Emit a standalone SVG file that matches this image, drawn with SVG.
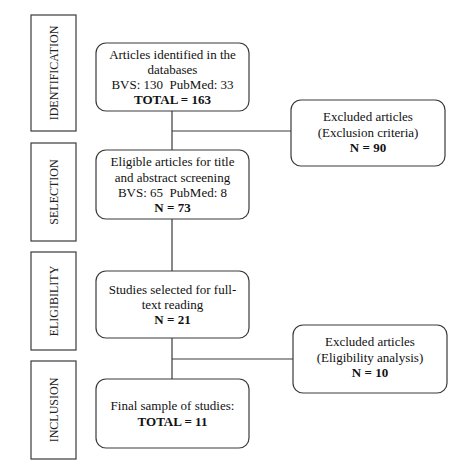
<svg xmlns="http://www.w3.org/2000/svg" width="461" height="461" viewBox="0 0 461 461">
<style>
.stage{fill:#fff;stroke:#3a3a3a;stroke-width:1.2}
.box{fill:#fff;stroke:#3a3a3a;stroke-width:1.2}
.t{font-family:'Liberation Serif','Times New Roman','DejaVu Serif',serif;font-size:13px;fill:#111;text-anchor:middle;white-space:pre}
.s{font-family:'Liberation Serif','Times New Roman','DejaVu Serif',serif;font-size:12px;fill:#222;text-anchor:middle}
.b{font-weight:bold}
.c{stroke:#3a3a3a;stroke-width:1.2;fill:none}
</style>
<rect width="461" height="461" fill="#fff"/>
<g id="connectors">
<line class="c" x1="172" y1="111" x2="172" y2="150"/>
<line class="c" x1="172" y1="131" x2="291" y2="131"/>
<line class="c" x1="172" y1="219" x2="172" y2="271"/>
<line class="c" x1="172" y1="338" x2="172" y2="379"/>
<line class="c" x1="172" y1="359" x2="293" y2="359"/>
</g>
<g id="stage-identification">
<rect class="stage" x="31" y="15" width="45" height="116"/>
<text class="s" transform="translate(57.5,73) rotate(-90)">IDENTIFICATION</text>
</g>
<g id="stage-selection">
<rect class="stage" x="31" y="143" width="45" height="98"/>
<text class="s" transform="translate(57.5,192) rotate(-90)">SELECTION</text>
</g>
<g id="stage-eligibility">
<rect class="stage" x="31" y="252" width="45" height="98"/>
<text class="s" transform="translate(57.5,301) rotate(-90)">ELIGIBILITY</text>
</g>
<g id="stage-inclusion">
<rect class="stage" x="31" y="361" width="45" height="98"/>
<text class="s" transform="translate(57.5,410) rotate(-90)">INCLUSION</text>
</g>
<g id="node-identified">
<rect class="box" x="96" y="43" width="153" height="68" rx="10"/>
<text class="t" x="172.5" y="59">Articles identified in the</text>
<text class="t" x="172.5" y="74">databases</text>
<text class="t" x="172.5" y="89" xml:space="preserve">BVS: 130  PubMed: 33</text>
<text class="t b" x="172.5" y="104">TOTAL = 163</text>
</g>
<g id="node-eligible">
<rect class="box" x="96" y="150" width="153" height="69" rx="10"/>
<text class="t" x="172.5" y="166">Eligible articles for title</text>
<text class="t" x="172.5" y="182">and abstract screening</text>
<text class="t" x="172.5" y="197" xml:space="preserve">BVS: 65  PubMed: 8</text>
<text class="t b" x="172.5" y="212">N = 73</text>
</g>
<g id="node-fulltext">
<rect class="box" x="96" y="271" width="153" height="67" rx="10"/>
<text class="t" x="172.5" y="294">Studies selected for full-</text>
<text class="t" x="172.5" y="309">text reading</text>
<text class="t b" x="172.5" y="324">N = 21</text>
</g>
<g id="node-final">
<rect class="box" x="96" y="379" width="153" height="69" rx="10"/>
<text class="t" x="172.5" y="410">Final sample of studies:</text>
<text class="t b" x="172.5" y="426">TOTAL = 11</text>
</g>
<g id="node-excluded1">
<rect class="box" x="291" y="100" width="154" height="66" rx="10"/>
<text class="t" x="368" y="121">Excluded articles</text>
<text class="t" x="368" y="137">(Exclusion criteria)</text>
<text class="t b" x="368" y="152">N = 90</text>
</g>
<g id="node-excluded2">
<rect class="box" x="293" y="325" width="154" height="68" rx="10"/>
<text class="t" x="370" y="346">Excluded articles</text>
<text class="t" x="370" y="362">(Eligibility analysis)</text>
<text class="t b" x="370" y="377">N = 10</text>
</g>
</svg>
